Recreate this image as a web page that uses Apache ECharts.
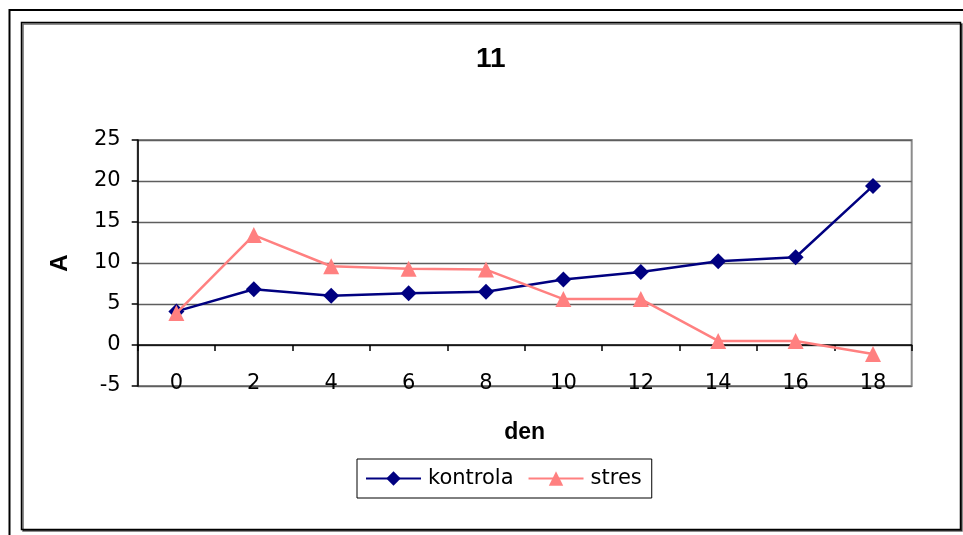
<!DOCTYPE html>
<html>
<head>
<meta charset="utf-8">
<script src="https://cdn.jsdelivr.net/npm/echarts@6/dist/echarts.min.js"></script>
<style>
  html, body { margin: 0; padding: 0; background: #fff; }
  #chart { width: 963px; height: 535px; }
</style>
</head>
<body>
<div id="chart"></div>
<script>
// Day of measurement (x categories)
const days = ['0', '2', '4', '6', '8', '10', '12', '14', '16', '18'];
// Measured values of A per group
const kontrola = [4.1, 6.8, 6.0, 6.3, 6.5, 8.0, 8.9, 10.2, 10.7, 19.4];
const stres = [3.9, 13.4, 9.6, 9.3, 9.2, 5.6, 5.6, 0.5, 0.5, -1.1];
// Value axis range and step
const yMin = -5, yMax = 25, yStep = 5;

const BOLD_FONT = 'Arial, "Liberation Sans", sans-serif';
const TEXT_FONT = '"DejaVu Sans", Arial, sans-serif';

const chart = echarts.init(document.getElementById('chart'), null, { renderer: 'canvas' });

chart.setOption({
  backgroundColor: '#ffffff',
  animation: false,
  title: {
    text: '11',
    left: 471,
    top: 40,
    textStyle: { fontFamily: BOLD_FONT, fontSize: 28, fontWeight: 'bold', color: '#000' }
  },
  graphic: [
    // outer frame (continues past the right and bottom edges)
    { type: 'rect', shape: { x: 9.5, y: 10, width: 980, height: 560 },
      style: { fill: null, stroke: '#000', lineWidth: 2 }, silent: true },
    // chart area frame
    { type: 'rect', shape: { x: 21.5, y: 22.5, width: 939, height: 507 },
      style: { fill: '#fff', stroke: '#000', lineWidth: 1.5,
               shadowColor: 'rgba(0,0,0,0.6)', shadowOffsetX: 1.5, shadowOffsetY: 1.5, shadowBlur: 0 },
      z: -10, silent: true }
  ],
  legend: {
    left: 357,
    top: 459,
    padding: [9, 10, 9, 8],
    itemGap: 14,
    itemWidth: 55,
    itemHeight: 18,
    borderColor: '#000',
    borderWidth: 1,
    backgroundColor: '#fff',
    textStyle: { fontFamily: TEXT_FONT, fontSize: 21, color: '#000', padding: [0, 0, 0, 2] },
    data: ['kontrola', 'stres']
  },
  grid: {
    left: 137.7,
    right: 51.3,
    top: 140,
    bottom: 149,
    show: true,
    borderColor: '#8c8c8c',
    borderWidth: 2,
    containLabel: false
  },
  xAxis: {
    type: 'category',
    data: days,
    boundaryGap: true,
    name: 'den',
    nameLocation: 'middle',
    nameGap: 35,
    nameTextStyle: { fontFamily: BOLD_FONT, fontSize: 23, fontWeight: 'bold', color: '#000' },
    axisLine: { show: true, onZero: true, lineStyle: { color: '#000', width: 1.5 } },
    axisTick: { show: true, length: 6, lineStyle: { color: '#000', width: 1.5 } },
    axisLabel: { fontFamily: TEXT_FONT, fontSize: 21, color: '#000', margin: -13 },
    splitLine: { show: false }
  },
  yAxis: {
    type: 'value',
    min: yMin,
    max: yMax,
    interval: yStep,
    name: 'A',
    nameLocation: 'middle',
    nameGap: 65,
    nameRotate: 90,
    nameTextStyle: { fontFamily: BOLD_FONT, fontSize: 24, fontWeight: 'bold', color: '#000' },
    axisLine: { show: true, onZero: false, lineStyle: { color: '#000', width: 1.5 } },
    axisTick: { show: true, length: 6, lineStyle: { color: '#000', width: 1.5 } },
    axisLabel: { fontFamily: TEXT_FONT, fontSize: 21, color: '#000', margin: 17 },
    splitLine: { show: true, lineStyle: { color: '#5e5e5e', width: 1.3 } }
  },
  series: [
    {
      name: 'kontrola',
      type: 'line',
      data: kontrola,
      symbol: 'diamond',
      symbolSize: 16,
      showAllSymbol: true,
      itemStyle: { color: '#000080' },
      lineStyle: { color: '#000080', width: 2.5 },
      z: 3
    },
    {
      name: 'stres',
      type: 'line',
      data: stres,
      symbol: 'triangle',
      symbolSize: 16,
      showAllSymbol: true,
      itemStyle: { color: '#FF8080' },
      lineStyle: { color: '#FF8080', width: 2.5 },
      z: 4
    }
  ]
});
</script>
</body>
</html>
